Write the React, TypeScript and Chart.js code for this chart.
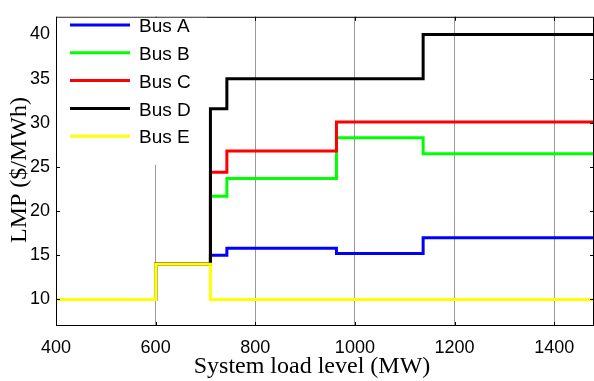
import React, { useEffect, useRef } from "react";
import { Chart, registerables } from "chart.js";

Chart.register(...registerables);

const loadLevels = [400, 600, 710, 743, 963, 1137, 1480];
const busA = [10, 14, 15, 15.8, 15.2, 17, 17];
const busB = [10, 14, 21.7, 23.7, 28.3, 26.5, 26.5];
const busC = [10, 14, 24.4, 26.8, 30.1, 30.1, 30.1];
const busD = [10, 14, 31.6, 35.0, 35.0, 40.0, 40.0];
const busE = [10, 14, 10, 10, 10, 10, 10];
const seriesNames = ["Bus A", "Bus B", "Bus C", "Bus D", "Bus E"];
const seriesColors = ["#0000ff", "#00ff00", "#ff0000", "#000000", "#ffff00"];
const xTicks = [400, 600, 800, 1000, 1200, 1400];
const yTicks = [10, 15, 20, 25, 30, 35, 40];
const xTitle = "System load level (MW)";
const yTitle = "LMP ($/MWh)";

export default function App() {
  const ref = useRef<HTMLCanvasElement>(null);
  useEffect(() => {
    const all = [busA, busB, busC, busD, busE];
    const datasets = all.map((vals, i) => ({
      label: seriesNames[i],
      data: vals.map((v, j) => ({ x: loadLevels[j], y: v })),
      borderColor: seriesColors[i],
      backgroundColor: seriesColors[i],
      borderWidth: 3,
      pointRadius: 0,
      stepped: "before" as const,
      fill: false,
      order: all.length - 1 - i,
    }));

    const framePlugin = {
      id: "frame",
      afterDatasetsDraw(chart: any) {
        const ctx = chart.ctx;
        const a = chart.chartArea;
        const xs = chart.scales.x;
        const ys = chart.scales.y;
        ctx.save();
        // frame
        ctx.strokeStyle = "#000";
        ctx.lineWidth = 1;
        ctx.strokeRect(a.left + 0.5, a.top + 0.5, a.right - a.left - 1, a.bottom - a.top - 1);
        // inward ticks
        const tl = 4;
        ctx.beginPath();
        xTicks.forEach((v) => {
          const px = Math.round(xs.getPixelForValue(v)) + 0.5;
          ctx.moveTo(px, a.bottom);
          ctx.lineTo(px, a.bottom - tl);
          ctx.moveTo(px, a.top);
          ctx.lineTo(px, a.top + tl);
        });
        yTicks.forEach((v) => {
          const py = Math.round(ys.getPixelForValue(v)) + 0.5;
          ctx.moveTo(a.left, py);
          ctx.lineTo(a.left + tl, py);
          ctx.moveTo(a.right, py);
          ctx.lineTo(a.right - tl, py);
        });
        ctx.stroke();
        // legend box
        ctx.fillStyle = "#ffffff";
        ctx.fillRect(a.left + 1, a.top + 1, 150, 147);
        ctx.font = "19px 'Liberation Sans', Arial, sans-serif";
        ctx.textBaseline = "middle";
        ctx.textAlign = "left";
        seriesNames.forEach((name, i) => {
          const y = 25 + i * 27.8;
          ctx.strokeStyle = seriesColors[i];
          ctx.lineWidth = 3;
          ctx.beginPath();
          ctx.moveTo(70, y);
          ctx.lineTo(130, y);
          ctx.stroke();
          ctx.fillStyle = "#000";
          ctx.fillText(name, 139, y + 2);
        });
        // axis titles
        ctx.fillStyle = "#000";
        ctx.font = "24px 'Liberation Serif', 'Times New Roman', serif";
        ctx.textAlign = "center";
        ctx.textBaseline = "middle";
        ctx.fillText(xTitle, 312, 367);
        ctx.translate(20, 170);
        ctx.rotate(-Math.PI / 2);
        ctx.fillText(yTitle, 0, 0);
        ctx.restore();
      },
    };

    const chart = new Chart(ref.current!, {
      type: "line",
      data: { datasets },
      options: {
        animation: false,
        responsive: false,
        maintainAspectRatio: false,
        layout: { padding: { top: 7, right: 0, left: 0, bottom: 0 } },
        plugins: { legend: { display: false }, tooltip: { enabled: false } },
        scales: {
          x: {
            type: "linear",
            min: 400,
            max: 1480,
            afterBuildTicks: (s: any) => {
              s.ticks = xTicks.map((v) => ({ value: v }));
            },
            afterFit: (s: any) => {
              s.height = 55;
            },
            ticks: {
              color: "#000",
              padding: 11,
              maxRotation: 0,
              callback: (v: any) => String(v),
              font: { family: "'Liberation Sans', Arial, sans-serif", size: 18 },
            },
            grid: {
              drawTicks: false,
              color: (c: any) => (c.tick && c.tick.value === 400 ? "rgba(0,0,0,0)" : "#999999"),
              lineWidth: 1,
            },
            border: { display: false },
          },
          y: {
            type: "linear",
            min: 7,
            max: 42,
            afterBuildTicks: (s: any) => {
              s.ticks = yTicks.map((v) => ({ value: v }));
            },
            afterFit: (s: any) => {
              s.width = 56;
            },
            ticks: {
              color: "#000",
              padding: 6,
              callback: (v: any) => String(v),
              font: { family: "'Liberation Sans', Arial, sans-serif", size: 18 },
            },
            grid: { display: false, drawTicks: false },
            border: { display: false },
          },
        },
      },
      plugins: [framePlugin],
    });
    return () => chart.destroy();
  }, []);

  return (
    <div style={{ position: "fixed", left: 0, top: 0, width: 594, height: 381, background: "#fff" }}>
      <canvas ref={ref} width={594} height={381} style={{ display: "block" }} />
    </div>
  );
}
